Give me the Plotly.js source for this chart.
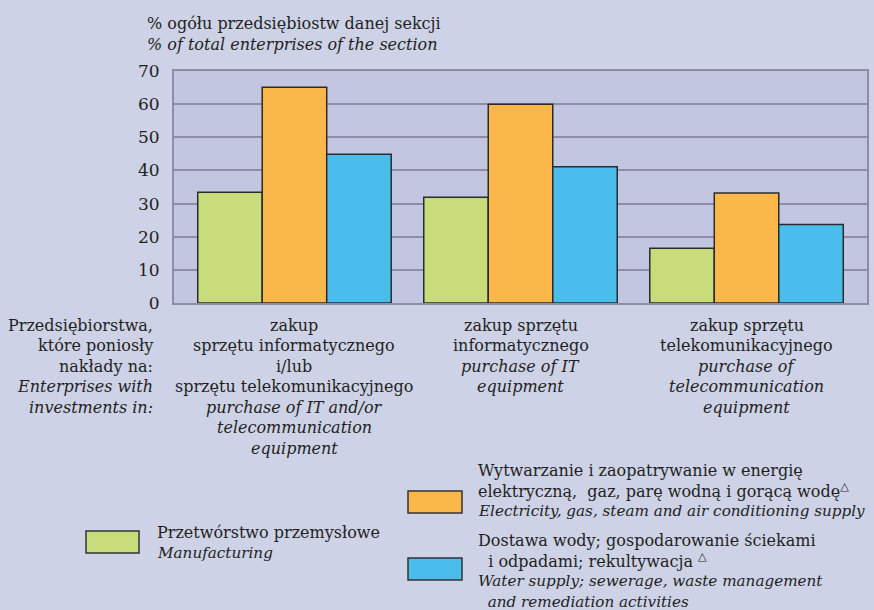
<!DOCTYPE html>
<html>
<head>
<meta charset="utf-8">
<script src="https://cdn.plot.ly/plotly-3.0.1.min.js"></script>
<style>html,body{margin:0;padding:0;background:#cdd2e7;}</style>
</head>
<body>
<div id="chart" style="width:874px;height:610px;"></div>
<script>
// ---- data ----
const categories = [
  'zakup sprzętu informatycznego i/lub sprzętu telekomunikacyjnego',
  'zakup sprzętu informatycznego',
  'zakup sprzętu telekomunikacyjnego'
];
const categoryLabelLines = [
  ['zakup', 'sprzętu informatycznego', 'i/lub', 'sprzętu telekomunikacyjnego', '<i>purchase of IT and/or</i>', '<i>telecommunication</i>', '<i>equipment</i>'],
  ['zakup sprzętu', 'informatycznego', '<i>purchase of IT</i>', '<i>equipment</i>'],
  ['zakup sprzętu', 'telekomunikacyjnego', '<i>purchase of</i>', '<i>telecommunication</i>', '<i>equipment</i>']
];
const axisCaptionLines = ['Przedsiębiorstwa,', 'które poniosły', 'nakłady na:', '<i>Enterprises with</i>', '<i>investments in:</i>'];
const seriesNames = ['Przetwórstwo przemysłowe', 'Wytwarzanie i zaopatrywanie w energię', 'Dostawa wody; gospodarowanie ściekami i odpadami; rekultywacja'];
const legendLines = [
  ['Przetwórstwo przemysłowe', '<i>Manufacturing</i>'],
  ['Wytwarzanie i zaopatrywanie w energię', 'elektryczną,  gaz, parę wodną i gorącą wodę<sup>△</sup>', '<i>Electricity, gas, steam and air conditioning supply</i>'],
  ['Dostawa wody; gospodarowanie ściekami', '  i odpadami; rekultywacja <sup>△</sup>', '<i>Water supply; sewerage, waste management</i>', '<i>  and remediation activities</i>']
];
const manufacturing = [33.4, 31.9, 16.5];
const energy = [65.1, 60.0, 33.2];
const water = [44.9, 41.1, 23.7];
const yTicks = [0, 10, 20, 30, 40, 50, 60, 70];

// ---- styling ----
const colors = ['#c8dc7c', '#fbb84a', '#4bbdec'];
const textColor = '#231f20';
const fontFam = 'DejaVu Serif';
const FS = 16;

const W = 874, H = 610;
const L = 174, R = 7, T = 71, B = 307;
const pw = W - L - R, ph = H - T - B;
const px2x = p => (p - L) / pw;
const py2y = p => (H - B - p) / ph;

const seriesData = [manufacturing, energy, water];
const traces = seriesData.map((vals, i) => ({
  type: 'bar',
  x: categories,
  y: vals,
  name: seriesNames[i],
  marker: {color: colors[i], line: {color: '#2b2b2b', width: 1.5}},
  hoverinfo: 'y+name'
}));

const annotations = [];
const lineH = 20.5;
const tf = {family: fontFam, size: FS, color: textColor};
categoryLabelLines.forEach((lines, ci) => {
  lines.forEach((t, li) => {
    annotations.push({
      xref: 'x', yref: 'paper', x: categories[ci], y: 0,
      yshift: -(22 + li * lineH), xanchor: 'center', yanchor: 'middle',
      text: t, showarrow: false, font: tf
    });
  });
});
axisCaptionLines.forEach((t, li) => {
  annotations.push({
    xref: 'paper', yref: 'paper', x: px2x(155), y: 0,
    yshift: -(22 + li * lineH), xanchor: 'right', yanchor: 'middle',
    text: t, showarrow: false, font: tf
  });
});

// legend (custom layout)
const legendBoxes = [
  {x0: 86, x1: 139, y0: 531, y1: 553, tx: 155, ty: 532},
  {x0: 408, x1: 462, y0: 491, y1: 513, tx: 476, ty: 470},
  {x0: 408, x1: 462, y0: 558, y1: 580, tx: 476, ty: 540}
];
const shapes = [];
legendBoxes.forEach((b, i) => {
  shapes.push({
    type: 'rect', xref: 'paper', yref: 'paper',
    x0: px2x(b.x0), x1: px2x(b.x1), y0: py2y(b.y1), y1: py2y(b.y0),
    fillcolor: colors[i], line: {color: '#333333', width: 1.5}
  });
  legendLines[i].forEach((t, li) => {
    const italic = t.indexOf('<i>') === 0;
    annotations.push({
      xref: 'paper', yref: 'paper', x: px2x(b.tx), y: py2y(b.ty + li * lineH),
      xanchor: 'left', yanchor: 'middle', text: t.replace(/  /, '&nbsp;&nbsp;'), showarrow: false,
      font: {family: fontFam, size: italic ? 15.2 : FS, color: textColor}
    });
  });
});

const gridCol = '#8f8ca9';
const layout = {
  width: W, height: H,
  margin: {l: L, r: R, t: T, b: B, pad: 0},
  paper_bgcolor: '#cdd2e7',
  plot_bgcolor: '#c2c6e1',
  showlegend: false,
  barmode: 'group',
  bargap: 0.144,
  bargroupgap: 0,
  font: tf,
  title: {
    text: '% ogółu przedsiębiostw danej sekcji<br><i>% of total enterprises of the section</i>',
    font: tf,
    xref: 'container', yref: 'container', x: 147 / W, xanchor: 'left',
    y: 1 - 29 / H, yanchor: 'middle'
  },
  xaxis: {
    type: 'category',
    range: [-0.533, 2.533],
    showticklabels: false, ticks: '',
    showgrid: false, zeroline: false,
    showline: true, mirror: true, linecolor: gridCol, linewidth: 2
  },
  yaxis: {
    range: [0, 70], tickvals: yTicks, ticktext: yTicks.map(String),
    showgrid: true, gridcolor: gridCol, gridwidth: 2,
    zeroline: false, ticks: '', ticklabelstandoff: 9,
    showline: true, mirror: true, linecolor: gridCol, linewidth: 2,
    tickfont: {family: fontFam, size: 17, color: textColor}
  },
  annotations: annotations,
  shapes: shapes
};

Plotly.newPlot('chart', traces, layout, {displayModeBar: false, staticPlot: true});
</script>
</body>
</html>
